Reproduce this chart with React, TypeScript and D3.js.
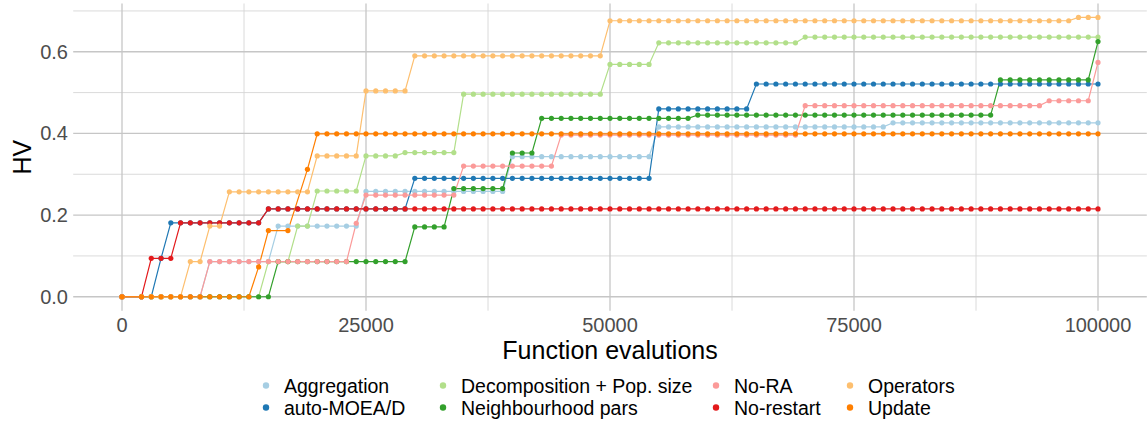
import React from "react";
import * as d3 from "d3";

// Evaluation counts at which the hypervolume was recorded
const evaluations = [
  0, 2000, 3000, 4000, 5000, 6000, 7000, 8000, 9000, 10000,
  11000, 12000, 13000, 14000, 15000, 16000, 17000, 18000, 19000, 20000,
  21000, 22000, 23000, 24000, 25000, 26000, 27000, 28000, 29000, 30000,
  31000, 32000, 33000, 34000, 35000, 36000, 37000, 38000, 39000, 40000,
  41000, 42000, 43000, 44000, 45000, 46000, 47000, 48000, 49000, 50000,
  51000, 52000, 53000, 54000, 55000, 56000, 57000, 58000, 59000, 60000,
  61000, 62000, 63000, 64000, 65000, 66000, 67000, 68000, 69000, 70000,
  71000, 72000, 73000, 74000, 75000, 76000, 77000, 78000, 79000, 80000,
  81000, 82000, 83000, 84000, 85000, 86000, 87000, 88000, 89000, 90000,
  91000, 92000, 93000, 94000, 95000, 96000, 97000, 98000, 99000, 100000,
];

const aggregation = [
  0, 0, 0, 0, 0, 0, 0, 0, 0.086, 0.086,
  0.086, 0.086, 0.086, 0.086, 0.086, 0.173, 0.173, 0.173, 0.173, 0.173,
  0.173, 0.173, 0.173, 0.173, 0.258, 0.258, 0.258, 0.258, 0.258, 0.258,
  0.258, 0.258, 0.258, 0.258, 0.258, 0.258, 0.258, 0.258, 0.258, 0.343,
  0.343, 0.343, 0.343, 0.343, 0.343, 0.343, 0.343, 0.343, 0.343, 0.343,
  0.343, 0.343, 0.343, 0.343, 0.416, 0.416, 0.416, 0.416, 0.416, 0.416,
  0.416, 0.416, 0.416, 0.416, 0.416, 0.416, 0.416, 0.416, 0.416, 0.416,
  0.416, 0.416, 0.416, 0.416, 0.416, 0.416, 0.416, 0.416, 0.426, 0.426,
  0.426, 0.426, 0.426, 0.426, 0.426, 0.426, 0.426, 0.426, 0.426, 0.426,
  0.426, 0.426, 0.426, 0.426, 0.426, 0.426, 0.426, 0.426, 0.426, 0.426,
];

const autoMoead = [
  0, 0, 0, 0.094, 0.181, 0.181, 0.181, 0.181, 0.181, 0.181,
  0.181, 0.181, 0.181, 0.181, 0.215, 0.215, 0.215, 0.215, 0.215, 0.215,
  0.215, 0.215, 0.215, 0.215, 0.215, 0.215, 0.215, 0.215, 0.215, 0.29,
  0.29, 0.29, 0.29, 0.29, 0.29, 0.29, 0.29, 0.29, 0.29, 0.29,
  0.29, 0.29, 0.29, 0.29, 0.29, 0.29, 0.29, 0.29, 0.29, 0.29,
  0.29, 0.29, 0.29, 0.29, 0.46, 0.46, 0.46, 0.46, 0.46, 0.46,
  0.46, 0.46, 0.46, 0.46, 0.521, 0.521, 0.521, 0.521, 0.521, 0.521,
  0.521, 0.521, 0.521, 0.521, 0.521, 0.521, 0.521, 0.521, 0.521, 0.521,
  0.521, 0.521, 0.521, 0.521, 0.521, 0.521, 0.521, 0.521, 0.521, 0.521,
  0.521, 0.521, 0.521, 0.521, 0.521, 0.521, 0.521, 0.521, 0.521, 0.521,
];

const decompositionPopSize = [
  0, 0, 0, 0, 0, 0, 0, 0, 0, 0,
  0, 0, 0, 0, 0.086, 0.086, 0.086, 0.173, 0.173, 0.259,
  0.259, 0.259, 0.259, 0.259, 0.345, 0.345, 0.345, 0.345, 0.353, 0.353,
  0.353, 0.353, 0.353, 0.353, 0.496, 0.496, 0.496, 0.496, 0.496, 0.496,
  0.496, 0.496, 0.496, 0.496, 0.496, 0.496, 0.496, 0.496, 0.496, 0.569,
  0.569, 0.569, 0.569, 0.569, 0.622, 0.622, 0.622, 0.622, 0.622, 0.622,
  0.622, 0.622, 0.622, 0.622, 0.622, 0.622, 0.622, 0.622, 0.622, 0.636,
  0.636, 0.636, 0.636, 0.636, 0.636, 0.636, 0.636, 0.636, 0.636, 0.636,
  0.636, 0.636, 0.636, 0.636, 0.636, 0.636, 0.636, 0.636, 0.636, 0.636,
  0.636, 0.636, 0.636, 0.636, 0.636, 0.636, 0.636, 0.636, 0.636, 0.636,
];

const neighbourhoodPars = [
  0, 0, 0, 0, 0, 0, 0, 0, 0, 0,
  0, 0, 0, 0, 0, 0.086, 0.086, 0.086, 0.086, 0.086,
  0.086, 0.086, 0.086, 0.086, 0.086, 0.086, 0.086, 0.086, 0.086, 0.171,
  0.171, 0.171, 0.171, 0.265, 0.265, 0.265, 0.265, 0.265, 0.265, 0.352,
  0.352, 0.352, 0.437, 0.437, 0.437, 0.437, 0.437, 0.437, 0.437, 0.437,
  0.437, 0.437, 0.437, 0.437, 0.437, 0.437, 0.437, 0.437, 0.445, 0.445,
  0.445, 0.445, 0.445, 0.445, 0.445, 0.445, 0.445, 0.445, 0.445, 0.445,
  0.445, 0.445, 0.445, 0.445, 0.445, 0.445, 0.445, 0.445, 0.445, 0.445,
  0.445, 0.445, 0.445, 0.445, 0.445, 0.445, 0.445, 0.445, 0.445, 0.531,
  0.531, 0.531, 0.531, 0.531, 0.531, 0.531, 0.531, 0.531, 0.531, 0.625,
];

const noRA = [
  0, 0, 0, 0, 0, 0, 0, 0, 0.086, 0.086,
  0.086, 0.086, 0.086, 0.086, 0.086, 0.086, 0.086, 0.086, 0.086, 0.086,
  0.086, 0.086, 0.086, 0.18, 0.249, 0.249, 0.249, 0.249, 0.249, 0.249,
  0.249, 0.249, 0.249, 0.249, 0.32, 0.32, 0.32, 0.32, 0.32, 0.32,
  0.32, 0.32, 0.32, 0.32, 0.396, 0.396, 0.396, 0.396, 0.396, 0.396,
  0.396, 0.396, 0.396, 0.396, 0.396, 0.396, 0.396, 0.396, 0.396, 0.396,
  0.396, 0.396, 0.396, 0.396, 0.396, 0.396, 0.396, 0.396, 0.396, 0.468,
  0.468, 0.468, 0.468, 0.468, 0.468, 0.468, 0.468, 0.468, 0.468, 0.468,
  0.468, 0.468, 0.468, 0.468, 0.468, 0.468, 0.468, 0.468, 0.468, 0.468,
  0.468, 0.468, 0.468, 0.468, 0.48, 0.48, 0.48, 0.48, 0.48, 0.574,
];

const noRestart = [
  0, 0, 0.094, 0.094, 0.094, 0.181, 0.181, 0.181, 0.181, 0.181,
  0.181, 0.181, 0.181, 0.181, 0.215, 0.215, 0.215, 0.215, 0.215, 0.215,
  0.215, 0.215, 0.215, 0.215, 0.215, 0.215, 0.215, 0.215, 0.215, 0.215,
  0.215, 0.215, 0.215, 0.215, 0.215, 0.215, 0.215, 0.215, 0.215, 0.215,
  0.215, 0.215, 0.215, 0.215, 0.215, 0.215, 0.215, 0.215, 0.215, 0.215,
  0.215, 0.215, 0.215, 0.215, 0.215, 0.215, 0.215, 0.215, 0.215, 0.215,
  0.215, 0.215, 0.215, 0.215, 0.215, 0.215, 0.215, 0.215, 0.215, 0.215,
  0.215, 0.215, 0.215, 0.215, 0.215, 0.215, 0.215, 0.215, 0.215, 0.215,
  0.215, 0.215, 0.215, 0.215, 0.215, 0.215, 0.215, 0.215, 0.215, 0.215,
  0.215, 0.215, 0.215, 0.215, 0.215, 0.215, 0.215, 0.215, 0.215, 0.215,
];

const operators = [
  0, 0, 0, 0, 0, 0, 0.086, 0.086, 0.173, 0.173,
  0.257, 0.257, 0.257, 0.257, 0.257, 0.257, 0.257, 0.257, 0.257, 0.345,
  0.345, 0.345, 0.345, 0.345, 0.504, 0.504, 0.504, 0.504, 0.504, 0.59,
  0.59, 0.59, 0.59, 0.59, 0.59, 0.59, 0.59, 0.59, 0.59, 0.59,
  0.59, 0.59, 0.59, 0.59, 0.59, 0.59, 0.59, 0.59, 0.59, 0.676,
  0.676, 0.676, 0.676, 0.676, 0.676, 0.676, 0.676, 0.676, 0.676, 0.676,
  0.676, 0.676, 0.676, 0.676, 0.676, 0.676, 0.676, 0.676, 0.676, 0.676,
  0.676, 0.676, 0.676, 0.676, 0.676, 0.676, 0.676, 0.676, 0.676, 0.676,
  0.676, 0.676, 0.676, 0.676, 0.676, 0.676, 0.676, 0.676, 0.676, 0.676,
  0.676, 0.676, 0.676, 0.676, 0.676, 0.676, 0.676, 0.684, 0.684, 0.684,
];

// null marks an evaluation count with no recorded value for this run
const update = [
  0, 0, 0, 0, 0, 0, 0, 0, 0, 0,
  0, 0, 0, 0.073, 0.162, null, 0.162, null, 0.312, 0.399,
  0.399, 0.399, 0.399, 0.399, 0.399, 0.399, 0.399, 0.399, 0.399, 0.399,
  0.399, 0.399, 0.399, 0.399, 0.399, 0.399, 0.399, 0.399, 0.399, 0.399,
  0.399, 0.399, 0.399, 0.399, 0.399, 0.399, 0.399, 0.399, 0.399, 0.399,
  0.399, 0.399, 0.399, 0.399, 0.399, 0.399, 0.399, 0.399, 0.399, 0.399,
  0.399, 0.399, 0.399, 0.399, 0.399, 0.399, 0.399, 0.399, 0.399, 0.399,
  0.399, 0.399, 0.399, 0.399, 0.399, 0.399, 0.399, 0.399, 0.399, 0.399,
  0.399, 0.399, 0.399, 0.399, 0.399, 0.399, 0.399, 0.399, 0.399, 0.399,
  0.399, 0.399, 0.399, 0.399, 0.399, 0.399, 0.399, 0.399, 0.399, 0.399,
];

const seriesNames = [
  "Aggregation",
  "auto-MOEA/D",
  "Decomposition + Pop. size",
  "Neighbourhood pars",
  "No-RA",
  "No-restart",
  "Operators",
  "Update",
];
const seriesValues = [
  aggregation,
  autoMoead,
  decompositionPopSize,
  neighbourhoodPars,
  noRA,
  noRestart,
  operators,
  update,
];
const seriesColors = [
  "#A6CEE3",
  "#1F78B4",
  "#B2DF8A",
  "#33A02C",
  "#FB9A99",
  "#E31A1C",
  "#FDBF6F",
  "#FF7F00",
];

const xTicks = [0, 25000, 50000, 75000, 100000];
const xMinorTicks = [12500, 37500, 62500, 87500];
const yTicks = [0, 0.2, 0.4, 0.6];
const yTickLabels = ["0.0", "0.2", "0.4", "0.6"];
const yMinorTicks = [0.1, 0.3, 0.5, 0.7];

const W = 1148;
const H = 421;
const FONT = "'Liberation Sans', Arial, Helvetica, sans-serif";

const panel = { left: 73.2, right: 1146.8, top: 3.5, bottom: 310.7 };

// legend layout: two rows, four columns
const legendCols = [266, 443, 716, 850];
const legendRows = [385.5, 407.5];

type Pt = { x: number; y: number };

export default function App() {
  const xExtent = d3.extent(evaluations) as [number, number];
  const xPad = (xExtent[1] - xExtent[0]) * 0.05;
  const allY = seriesValues.flat().filter((v) => v != null) as number[];
  const yMin = d3.min(allY) as number;
  const yMax = d3.max(allY) as number;
  const yPad = (yMax - yMin) * 0.05;

  const x = d3
    .scaleLinear()
    .domain([xExtent[0] - xPad, xExtent[1] + xPad])
    .range([panel.left, panel.right]);
  const y = d3
    .scaleLinear()
    .domain([yMin - yPad, yMax + yPad])
    .range([panel.bottom, panel.top]);

  const line = d3
    .line<Pt>()
    .x((d) => x(d.x))
    .y((d) => y(d.y));

  const series = seriesValues.map((vals, i) => ({
    name: seriesNames[i],
    color: seriesColors[i],
    points: vals
      .map((v, j) => (v == null ? null : { x: evaluations[j], y: v }))
      .filter((p): p is Pt => p !== null),
  }));

  return (
    <svg
      width={W}
      height={H}
      viewBox={`0 0 ${W} ${H}`}
      style={{ position: "absolute", left: 0, top: 0, display: "block", background: "#fff" }}
      fontFamily={FONT}
    >
      <rect x={0} y={0} width={W} height={H} fill="#ffffff" />
      {/* grid */}
      <g>
        {yMinorTicks.map((t) => (
          <line key={`ym${t}`} x1={panel.left} x2={panel.right} y1={y(t)} y2={y(t)} stroke="#d6d6d6" strokeWidth={0.9} />
        ))}
        {xMinorTicks.map((t) => (
          <line key={`xm${t}`} x1={x(t)} x2={x(t)} y1={panel.top} y2={panel.bottom} stroke="#d6d6d6" strokeWidth={0.9} />
        ))}
        {yTicks.map((t) => (
          <line key={`yM${t}`} x1={panel.left} x2={panel.right} y1={y(t)} y2={y(t)} stroke="#c6c6c6" strokeWidth={1.3} />
        ))}
        {xTicks.map((t) => (
          <line key={`xM${t}`} x1={x(t)} x2={x(t)} y1={panel.top} y2={panel.bottom} stroke="#c6c6c6" strokeWidth={1.3} />
        ))}
      </g>
      {/* lines */}
      <g fill="none">
        {series.map((s) => (
          <path key={`l-${s.name}`} d={line(s.points) ?? ""} stroke={s.color} strokeWidth={1.2} />
        ))}
      </g>
      {/* points */}
      <g>
        {series.map((s) => (
          <g key={`p-${s.name}`} fill={s.color}>
            {s.points.map((p, j) => (
              <circle key={j} cx={x(p.x)} cy={y(p.y)} r={2.6} />
            ))}
          </g>
        ))}
      </g>
      {/* axis tick labels */}
      <g fontSize={20} fill="#4D4D4D">
        {yTicks.map((t, i) => (
          <text key={`yl${t}`} x={68} y={y(t)} textAnchor="end" dominantBaseline="central">
            {yTickLabels[i]}
          </text>
        ))}
        {xTicks.map((t) => (
          <text key={`xl${t}`} x={x(t)} y={325} textAnchor="middle" dominantBaseline="central">
            {d3.format("d")(t)}
          </text>
        ))}
      </g>
      {/* axis titles */}
      <text x={(panel.left + panel.right) / 2} y={350} textAnchor="middle" dominantBaseline="central" fontSize={25} fill="#000">
        Function evalutions
      </text>
      <text
        transform={`translate(22,${(panel.top + panel.bottom) / 2}) rotate(-90)`}
        textAnchor="middle"
        dominantBaseline="central"
        fontSize={25}
        fill="#000"
      >
        HV
      </text>
      {/* legend */}
      <g fontSize={19.5} fill="#000">
        {series.map((s, i) => {
          const col = Math.floor(i / 2);
          const row = i % 2;
          const cx = legendCols[col];
          const cy = legendRows[row];
          return (
            <g key={`lg-${s.name}`}>
              <circle cx={cx} cy={cy} r={3.2} fill={s.color} />
              <text x={cx + 18} y={cy} dominantBaseline="central">
                {s.name}
              </text>
            </g>
          );
        })}
      </g>
    </svg>
  );
}
